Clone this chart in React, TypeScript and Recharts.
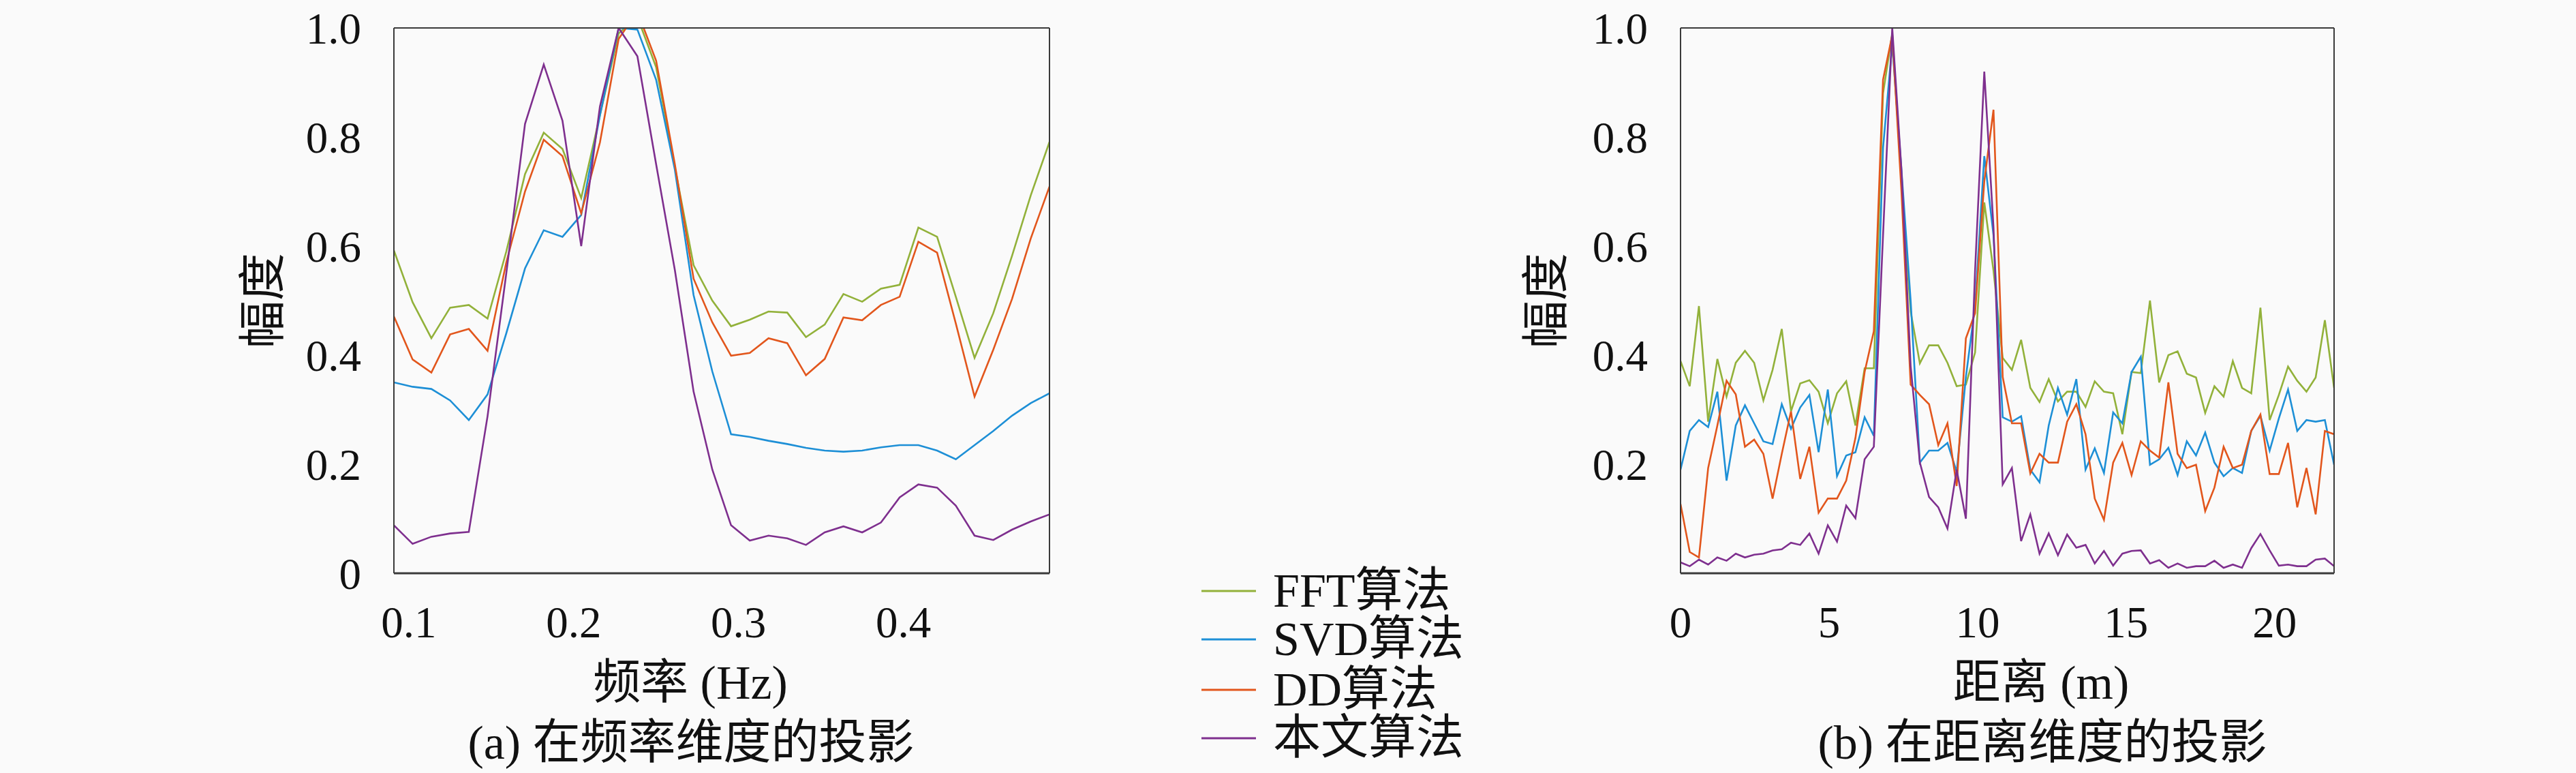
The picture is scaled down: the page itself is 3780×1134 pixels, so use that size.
import { Line, LineChart, XAxis, YAxis } from 'recharts'

// frequency bins (Hz) and range bins (m)
const freqHz = Array.from({ length: 36 }, (_, i) => (8 + i) / 88)
const freqTicks = [0.1, 0.2, 0.3, 0.4]
const rangeM = Array.from({ length: 72 }, (_, i) => (i * 22) / 71)
const rangeTicks = [0, 5, 10, 15, 20]

const fftFreq = [
  0.592, 0.497, 0.431, 0.487, 0.492, 0.467, 0.59, 0.732, 0.808, 0.778, 0.688, 0.84,
  0.99, 1.02, 0.928, 0.745, 0.565, 0.5, 0.453, 0.465, 0.48, 0.478, 0.433, 0.456,
  0.512, 0.498, 0.522, 0.529, 0.634, 0.617, 0.507, 0.395, 0.477, 0.582, 0.693, 0.791
]
const svdFreq = [
  0.35, 0.342, 0.338, 0.317, 0.281, 0.328, 0.44, 0.559, 0.629, 0.617, 0.657, 0.84,
  1.0, 0.997, 0.905, 0.74, 0.51, 0.37, 0.255, 0.25, 0.243, 0.237, 0.23, 0.225,
  0.223, 0.225, 0.231, 0.235, 0.235, 0.225, 0.209, 0.235, 0.261, 0.289, 0.312, 0.33
]
const ddFreq = [
  0.471, 0.392, 0.368, 0.438, 0.448, 0.408, 0.57, 0.7, 0.795, 0.765, 0.66, 0.79,
  0.98, 1.03, 0.94, 0.75, 0.54, 0.46, 0.399, 0.404, 0.431, 0.422, 0.363, 0.393,
  0.469, 0.464, 0.492, 0.507, 0.608, 0.588, 0.458, 0.324, 0.41, 0.503, 0.614, 0.709
]
const oursFreq = [
  0.088, 0.054, 0.067, 0.073, 0.076, 0.288, 0.55, 0.824, 0.933, 0.83, 0.6, 0.856,
  1.0, 0.948, 0.75, 0.556, 0.333, 0.19, 0.088, 0.06, 0.069, 0.064, 0.052, 0.075,
  0.086, 0.075, 0.093, 0.139, 0.163, 0.157, 0.124, 0.069, 0.061, 0.08, 0.095, 0.108
]

const fftRange = [
  0.389, 0.343, 0.49, 0.278, 0.393, 0.324, 0.386, 0.408, 0.386, 0.317, 0.373, 0.448,
  0.297, 0.348, 0.354, 0.333, 0.275, 0.33, 0.352, 0.271, 0.376, 0.376, 0.88, 0.99,
  0.72, 0.48, 0.385, 0.418, 0.418, 0.386, 0.343, 0.346, 0.405, 0.68, 0.555, 0.395,
  0.373, 0.428, 0.34, 0.314, 0.356, 0.315, 0.333, 0.333, 0.305, 0.352, 0.333, 0.33,
  0.255, 0.369, 0.367, 0.5, 0.35, 0.4, 0.407, 0.366, 0.359, 0.294, 0.343, 0.324,
  0.389, 0.34, 0.33, 0.487, 0.281, 0.327, 0.379, 0.353, 0.333, 0.359, 0.464, 0.34
]
const svdRange = [
  0.19, 0.261, 0.281, 0.268, 0.333, 0.17, 0.271, 0.308, 0.275, 0.242, 0.237, 0.31,
  0.265, 0.304, 0.327, 0.222, 0.337, 0.178, 0.216, 0.222, 0.286, 0.252, 0.78, 0.97,
  0.74, 0.5, 0.203, 0.225, 0.225, 0.239, 0.186, 0.36, 0.49, 0.765, 0.62, 0.286,
  0.278, 0.288, 0.19, 0.167, 0.271, 0.34, 0.291, 0.356, 0.19, 0.229, 0.184, 0.295,
  0.275, 0.369, 0.397, 0.199, 0.209, 0.23, 0.18, 0.242, 0.216, 0.258, 0.203, 0.178,
  0.193, 0.184, 0.261, 0.289, 0.225, 0.284, 0.337, 0.261, 0.281, 0.278, 0.281, 0.199
]
const ddRange = [
  0.127, 0.039, 0.029, 0.193, 0.271, 0.353, 0.328, 0.232, 0.245, 0.219, 0.137, 0.219,
  0.297, 0.173, 0.232, 0.111, 0.137, 0.137, 0.17, 0.248, 0.369, 0.444, 0.905, 0.987,
  0.7, 0.346, 0.327, 0.31, 0.235, 0.275, 0.16, 0.431, 0.477, 0.719, 0.85, 0.36,
  0.275, 0.275, 0.183, 0.219, 0.203, 0.203, 0.278, 0.31, 0.255, 0.137, 0.098, 0.203,
  0.239, 0.18, 0.242, 0.225, 0.212, 0.35, 0.219, 0.193, 0.199, 0.114, 0.157, 0.232,
  0.193, 0.199, 0.261, 0.291, 0.182, 0.182, 0.239, 0.121, 0.193, 0.108, 0.261, 0.255
]
const oursRange = [
  0.02, 0.013, 0.025, 0.016, 0.029, 0.023, 0.036, 0.029, 0.034, 0.036, 0.042, 0.044,
  0.056, 0.052, 0.073, 0.036, 0.088, 0.058, 0.124, 0.101, 0.209, 0.232, 0.62, 1.0,
  0.74, 0.38, 0.203, 0.14, 0.121, 0.082, 0.19, 0.1, 0.556, 0.92, 0.634, 0.163,
  0.193, 0.059, 0.108, 0.036, 0.073, 0.033, 0.071, 0.047, 0.052, 0.018, 0.041, 0.014,
  0.036, 0.041, 0.042, 0.018, 0.024, 0.01, 0.018, 0.01, 0.013, 0.013, 0.023, 0.01,
  0.016, 0.01, 0.046, 0.072, 0.042, 0.014, 0.016, 0.013, 0.013, 0.025, 0.027, 0.013
]

const seriesKeys = ['fft', 'svd', 'dd', 'ours']
const seriesNames = ['FFT算法', 'SVD算法', 'DD算法', '本文算法']
const seriesColors = ['#92b13a', '#1d8fd6', '#e2561c', '#7e2f8e']

const freqYTicks = [0, 0.2, 0.4, 0.6, 0.8, 1.0]
const rangeYTicks = [0.2, 0.4, 0.6, 0.8, 1.0]

const AXIS = '#3a3a3a'
// serif for latin, CJK falls back to Noto
const FONT = '"Liberation Serif", "Noto Sans CJK SC", serif'

const freqRows = freqHz.map((x, i) => ({
  x,
  fft: fftFreq[i],
  svd: svdFreq[i],
  dd: ddFreq[i],
  ours: oursFreq[i]
}))
const rangeRows = rangeM.map((x, i) => ({
  x,
  fft: fftRange[i],
  svd: svdRange[i],
  dd: ddRange[i],
  ours: oursRange[i]
}))

const fmtY = (v: number) => (v === 0 ? '0' : v.toFixed(1))

type PanelProps = {
  rows: { x: number }[]
  xDomain: [number, number]
  xTicks: number[]
  yTicks: number[]
  fmtX: (v: number) => string
  left: number
  marginLeft: number
  marginRight: number
}

function Panel({ rows, xDomain, xTicks, yTicks, fmtX, left, marginLeft, marginRight }: PanelProps) {
  const tickText = { fontSize: 65, fill: '#111', fontFamily: FONT }
  const markLine = { stroke: AXIS, strokeWidth: 2 }
  return (
    <div style={{ position: 'absolute', left, top: 0 }}>
      <LineChart
        width={1600}
        height={1134}
        data={rows}
        margin={{ top: 41, right: marginRight, bottom: 233, left: marginLeft }}>
        <XAxis
          xAxisId="b"
          dataKey="x"
          type="number"
          domain={xDomain}
          ticks={xTicks}
          interval={0}
          allowDataOverflow
          height={60}
          tickLine={false}
          tickSize={0}
          tickMargin={48}
          tick={tickText}
          tickFormatter={fmtX}
          axisLine={{ stroke: AXIS, strokeWidth: 3 }}
        />
        <XAxis
          xAxisId="bm"
          dataKey="x"
          type="number"
          domain={xDomain}
          ticks={xTicks}
          interval={0}
          allowDataOverflow
          mirror
          tick={false}
          tickSize={12}
          tickLine={markLine}
          axisLine={false}
        />
        <XAxis
          xAxisId="t"
          orientation="top"
          dataKey="x"
          type="number"
          domain={xDomain}
          ticks={xTicks}
          interval={0}
          allowDataOverflow
          mirror
          tick={false}
          tickSize={12}
          tickLine={markLine}
          axisLine={{ stroke: AXIS, strokeWidth: 2 }}
        />
        <YAxis
          yAxisId="l"
          type="number"
          domain={[0, 1]}
          ticks={yTicks}
          interval={0}
          allowDataOverflow
          width={100}
          tickLine={false}
          tickSize={0}
          tickMargin={48}
          tick={tickText}
          tickFormatter={fmtY}
          axisLine={{ stroke: AXIS, strokeWidth: 2 }}
        />
        <YAxis
          yAxisId="lm"
          type="number"
          domain={[0, 1]}
          ticks={yTicks}
          interval={0}
          allowDataOverflow
          mirror
          tick={false}
          tickSize={12}
          tickLine={markLine}
          axisLine={false}
        />
        <YAxis
          yAxisId="r"
          orientation="right"
          type="number"
          domain={[0, 1]}
          ticks={yTicks}
          interval={0}
          allowDataOverflow
          mirror
          tick={false}
          tickSize={12}
          tickLine={markLine}
          axisLine={{ stroke: AXIS, strokeWidth: 2 }}
        />
        {seriesKeys.map((k, i) => (
          <Line
            key={k}
            xAxisId="b"
            yAxisId="l"
            type="linear"
            dataKey={k}
            name={seriesNames[i]}
            stroke={seriesColors[i]}
            strokeWidth={2.6}
            dot={false}
            activeDot={false}
            isAnimationActive={false}
          />
        ))}
      </LineChart>
    </div>
  )
}

function Caption({ x, y, size, children }: { x: number; y: number; size: number; children: string }) {
  return (
    <div
      style={{
        position: 'absolute',
        left: x,
        top: y,
        transform: 'translate(-50%, -50%)',
        fontSize: size,
        lineHeight: 1,
        whiteSpace: 'nowrap',
        color: '#111'
      }}>
      {children}
    </div>
  )
}

function YLabel({ x, y }: { x: number; y: number }) {
  return (
    <div
      style={{
        position: 'absolute',
        left: x,
        top: y,
        transform: 'translate(-50%, -50%) rotate(-90deg)',
        fontSize: 70,
        lineHeight: 1,
        whiteSpace: 'nowrap',
        color: '#111'
      }}>
      幅度
    </div>
  )
}

const legendRowY = [867, 938, 1012, 1083]

export default function App() {
  return (
    <div
      style={{
        position: 'absolute',
        left: 0,
        top: 0,
        width: 3780,
        height: 1134,
        background: '#fafafa',
        fontFamily: FONT,
        overflow: 'hidden'
      }}>
      <Panel
        rows={freqRows}
        xDomain={[8 / 88, 43 / 88]}
        xTicks={freqTicks}
        yTicks={freqYTicks}
        fmtX={(v) => v.toFixed(1)}
        left={0}
        marginLeft={478}
        marginRight={60}
      />
      <Panel
        rows={rangeRows}
        xDomain={[0, 22]}
        xTicks={rangeTicks}
        yTicks={rangeYTicks}
        fmtX={(v) => String(v)}
        left={1900}
        marginLeft={466}
        marginRight={75}
      />
      <YLabel x={387} y={441} />
      <YLabel x={2270} y={441} />
      <Caption x={1013} y={1002} size={70}>频率 (Hz)</Caption>
      <Caption x={1014} y={1090} size={70}>(a) 在频率维度的投影</Caption>
      <Caption x={2995} y={1002} size={70}>距离 (m)</Caption>
      <Caption x={2997} y={1090} size={70}>(b) 在距离维度的投影</Caption>
      {seriesNames.map((name, i) => (
        <div
          key={name}
          style={{
            position: 'absolute',
            left: 1763,
            top: legendRowY[i] - 36,
            height: 72,
            display: 'flex',
            alignItems: 'center',
            fontSize: 70,
            lineHeight: 1,
            whiteSpace: 'nowrap',
            color: '#111'
          }}>
          <svg width={80} height={10} style={{ marginRight: 25 }}>
            <line x1={0} y1={5} x2={80} y2={5} stroke={seriesColors[i]} strokeWidth={3} />
          </svg>
          {name}
        </div>
      ))}
    </div>
  )
}
